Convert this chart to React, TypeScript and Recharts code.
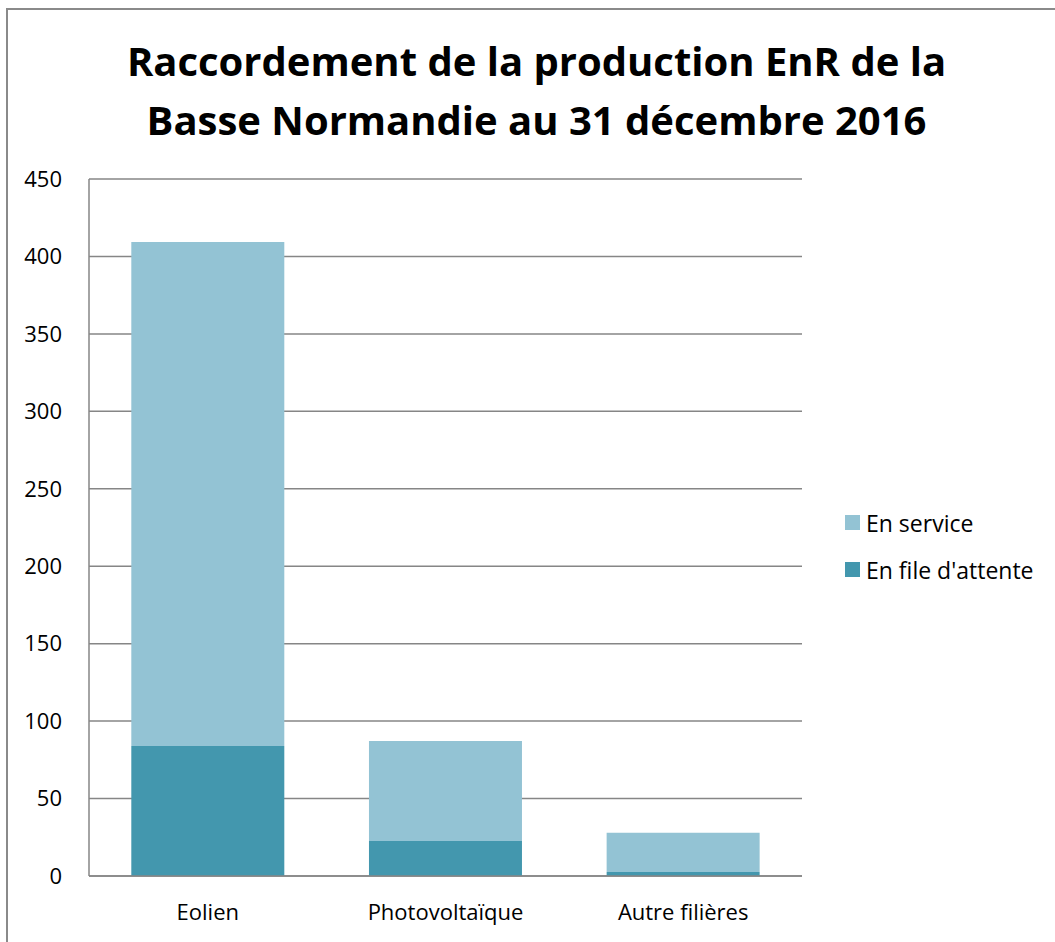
import { Bar, BarChart, CartesianGrid, XAxis, YAxis } from 'recharts'

const categories = ['Eolien', 'Photovoltaïque', 'Autre filières']
const fileAttente = [84, 22.6, 2.6]
const enService = [325.4, 64.6, 25.4]
const yTicks = [0, 50, 100, 150, 200, 250, 300, 350, 400, 450]

const data = categories.map((name, i) => ({
  name,
  attente: fileAttente[i],
  service: enService[i],
}))

const FONT = '"Open Sans", "Noto Sans", sans-serif'
const GRID = '#868686'
const SERVICE = '#93C3D4'
const ATTENTE = '#4397AE'

const legendItems = [
  { label: 'En service', color: SERVICE },
  { label: "En file d'attente", color: ATTENTE },
]

export default function App() {
  return (
    <div style={{ position: 'absolute', left: 0, top: 0, width: 1055, height: 942, background: '#fff', overflow: 'hidden' }}>
      <div
        style={{
          position: 'absolute',
          left: 6,
          top: 8,
          width: 1060,
          height: 950,
          border: '2px solid #8a8a8a',
          boxSizing: 'border-box',
        }}
      />
      <div
        style={{
          position: 'absolute',
          left: 0,
          top: 31,
          width: 1073,
          textAlign: 'center',
          fontFamily: FONT,
          fontWeight: 700,
          fontSize: 40,
          lineHeight: '59px',
          color: '#000',
        }}
      >
        Raccordement de la production EnR de la
        <br />
        Basse Normandie au 31 décembre 2016
      </div>
      <div style={{ position: 'absolute', left: 0, top: 0 }}>
        <BarChart
          width={1055}
          height={942}
          data={data}
          margin={{ top: 179, right: 253, bottom: 6, left: 29 }}
          barCategoryGap="17.8%"
        >
          <CartesianGrid stroke={GRID} strokeWidth={1.5} vertical={false} />
          <XAxis
            dataKey="name"
            height={60}
            axisLine={{ stroke: GRID, strokeWidth: 1.5 }}
            tickLine={false}
            tickMargin={22}
            tick={{ fill: '#000', fontSize: 22, fontFamily: FONT }}
          />
          <YAxis
            width={60}
            domain={[0, 450]}
            ticks={yTicks}
            axisLine={{ stroke: GRID, strokeWidth: 1.5 }}
            tickLine={false}
            tickMargin={21}
            tick={{ fill: '#000', fontSize: 22, fontFamily: FONT }}
          />
          <Bar dataKey="attente" stackId="a" fill={ATTENTE} isAnimationActive={false} />
          <Bar dataKey="service" stackId="a" fill={SERVICE} isAnimationActive={false} />
        </BarChart>
      </div>
      <div style={{ position: 'absolute', left: 845, top: 499, fontFamily: FONT, fontSize: 23, color: '#000' }}>
        {legendItems.map((it) => (
          <div key={it.label} style={{ display: 'flex', alignItems: 'center', height: 47, whiteSpace: 'nowrap' }}>
            <span style={{ width: 15, height: 15, background: it.color, marginRight: 6, display: 'inline-block' }} />
            {it.label}
          </div>
        ))}
      </div>
    </div>
  )
}
